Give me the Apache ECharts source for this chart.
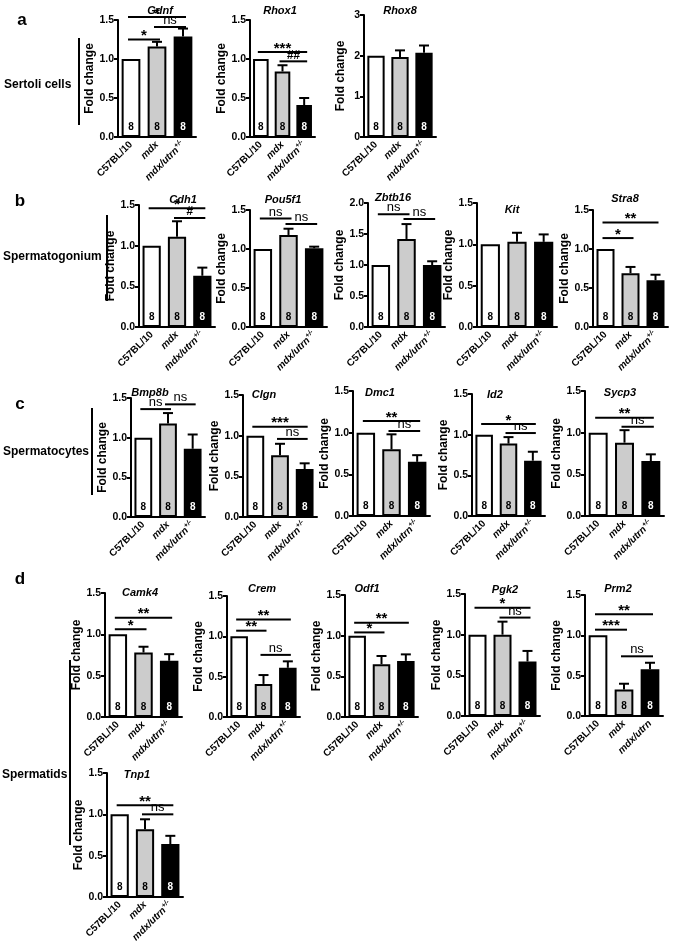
<!DOCTYPE html>
<html><head><meta charset="utf-8">
<script src="https://cdn.jsdelivr.net/npm/echarts@6/dist/echarts.min.js"></script>
<style>html,body{margin:0;padding:0;background:#fff}#c{width:675px;height:947px}</style>
</head><body><div id="c"></div>
<script>
// ---------- data ----------
const genes = ['Gdnf','Rhox1','Rhox8','Cdh1','Pou5f1','Zbtb16','Kit','Stra8','Bmp8b','Clgn','Dmc1','Id2','Sycp3','Camk4','Crem','Odf1','Pgk2','Prm2','Tnp1'];
const groups = ['C57BL/10','mdx','mdx/utrn+/-'];
const groupsPrm2 = ['C57BL/10','mdx','mdx/utrn'];
const meanC57 = [1,1,2,1,1,1,1,1,1,1,1,1,1,1,1,1,1,1,1];
const meanMdx = [1.16,0.84,1.97,1.11,1.18,1.42,1.03,0.69,1.18,0.76,0.80,0.89,0.88,0.78,0.41,0.65,1.00,0.33,0.82];
const semMdx  = [0.06,0.08,0.16,0.19,0.08,0.24,0.11,0.08,0.13,0.14,0.18,0.08,0.15,0.07,0.11,0.10,0.16,0.07,0.12];
const meanDko = [1.29,0.41,2.07,0.63,1.01,1.00,1.03,0.60,0.86,0.59,0.65,0.68,0.66,0.68,0.61,0.69,0.67,0.58,0.64];
const semDko  = [0.10,0.09,0.18,0.10,0.02,0.06,0.09,0.07,0.18,0.07,0.08,0.11,0.08,0.08,0.08,0.08,0.13,0.08,0.10];
const nPerGroup = [8,8,8];
const yMax  = [1.5,1.5,3,1.5,1.5,2,1.5,1.5,1.5,1.5,1.5,1.5,1.5,1.5,1.5,1.5,1.5,1.5,1.5];
const yStep = [0.5,0.5,1,0.5,0.5,0.5,0.5,0.5,0.5,0.5,0.5,0.5,0.5,0.5,0.5,0.5,0.5,0.5,0.5];
// [geneIndex, fromGroup, toGroup, yLevel, text]
const sigMarks = [
  [0,0,1,1.25,'*'],[0,0,2,1.54,'*'],[0,1,2,1.41,'ns'],
  [1,0,2,1.09,'***'],[1,1,2,0.97,'##'],
  [3,0,2,1.46,'*'],[3,1,2,1.34,'#'],
  [4,0,1,1.39,'ns'],[4,1,2,1.32,'ns'],
  [5,0,1,1.82,'ns'],[5,1,2,1.74,'ns'],
  [7,0,2,1.34,'**'],[7,0,1,1.14,'*'],
  [8,0,1,1.36,'ns'],[8,1,2,1.42,'ns'],
  [9,0,2,1.11,'***'],[9,1,2,0.96,'ns'],
  [10,0,2,1.14,'**'],[10,1,2,1.02,'ns'],
  [11,0,2,1.13,'*'],[11,1,2,1.02,'ns'],
  [12,0,2,1.18,'**'],[12,1,2,1.07,'ns'],
  [13,0,2,1.20,'**'],[13,0,1,1.06,'*'],
  [14,0,2,1.21,'**'],[14,0,1,1.07,'**'],[14,1,2,0.77,'ns'],
  [15,0,2,1.16,'**'],[15,0,1,1.04,'*'],
  [16,0,2,1.33,'*'],[16,1,2,1.21,'ns'],
  [17,0,2,1.26,'**'],[17,0,1,1.07,'***'],[17,1,2,0.74,'ns'],
  [18,0,2,1.11,'**'],[18,1,2,1.00,'ns']
];
const sections = [
  {letter:'a', name:'Sertoli cells'},
  {letter:'b', name:'Spermatogonium'},
  {letter:'c', name:'Spermatocytes'},
  {letter:'d', name:'Spermatids'}
];

// ---------- layout ----------
const gridBoxes = [
  [118,20,78,117],[250,20,65,117],[364,15,72,122],
  [139,205,76,122],[250,210,77,117],[368,203,77,124],[477,203,80,124],[593,210,75,117],
  [131,398,74,119],[243,395,74,122],[353,391,77,125],[472,394,73,122],[585,391,79,125],
  [105,593,77,124],[227,596,73,121],[345,595,73,122],[465,594,75,122],[585,595,78,121],
  [107,773,76,124]
];
const titlePos = [
  [160,11],[280,11],[400,11],
  [183,200],[283,200],[393,198],[512,210],[625,199],
  [150,393],[264,395],[380,393],[495,395],[620,393],
  [140,593],[262,589],[367,589],[505,590],[618,589],
  [137,775]
];
const sectionLayout = [
  {lx:22,ly:20,tx:4,ty:85,bx:79,by1:38,by2:125},
  {lx:20,ly:201,tx:3,ty:257,bx:107,by1:215,by2:301},
  {lx:20,ly:404,tx:3,ty:452,bx:92,by1:408,by2:495},
  {lx:20,ly:579,tx:2,ty:775,bx:70,by1:660,by2:845}
];

const FONT = '"Liberation Sans", Arial, sans-serif';
const barFill = ['#ffffff','#cccccc','#000000'];
const labelFill = ['#000000','#000000','#ffffff'];

const option = {animation:false, backgroundColor:'#fff', grid:[], xAxis:[], yAxis:[], series:[], graphic:[]};

genes.forEach((g,k)=>{
  const [l,t,w,h] = gridBoxes[k];
  option.grid.push({left:l, top:t, width:w, height:h});
  const cats = g === 'Prm2' ? groupsPrm2 : groups;
  option.xAxis.push({
    type:'category', gridIndex:k, data:cats,
    axisLine:{lineStyle:{color:'#000', width:2}},
    axisTick:{alignWithLabel:true, length:4, lineStyle:{color:'#000', width:2}},
    axisLabel:{interval:0, rotate:45, margin:6, color:'#000',
      formatter:v => v==='C57BL/10' ? '{n|C57BL/10}' : (v==='mdx/utrn+/-' ? '{i|mdx/utrn}{s|+/-}' : '{i|'+v+'}'),
      rich:{
        n:{fontFamily:FONT, fontWeight:'bold', fontSize:10, color:'#000'},
        i:{fontFamily:FONT, fontWeight:'bold', fontStyle:'italic', fontSize:10, color:'#000'},
        s:{fontFamily:FONT, fontWeight:'bold', fontStyle:'italic', fontSize:7, color:'#000', verticalAlign:'top', padding:[0,0,6,0]}
      }}
  });
  option.yAxis.push({
    type:'value', gridIndex:k, min:0, max:yMax[k], interval:yStep[k],
    name:'Fold change', nameLocation:'middle', nameGap:17,
    nameTextStyle:{fontFamily:FONT, fontWeight:'bold', fontSize:12, color:'#000'},
    axisLine:{show:true, lineStyle:{color:'#000', width:2}},
    axisTick:{show:true, length:4, lineStyle:{color:'#000', width:2}},
    splitLine:{show:false},
    axisLabel:{margin:4, color:'#000', fontFamily:FONT, fontWeight:'bold', fontSize:10.5,
      formatter:v => yStep[k] >= 1 ? String(Math.round(v)) : v.toFixed(1)}
  });
  const means = [meanC57[k], meanMdx[k], meanDko[k]];
  option.series.push({
    type:'bar', xAxisIndex:k, yAxisIndex:k, barWidth:'72%',
    data: means.map((m,i)=>({value:m, itemStyle:{color:barFill[i]}, label:{color:labelFill[i]}})),
    itemStyle:{borderColor:'#000', borderWidth:2},
    label:{show:true, position:'insideBottom', distance:5, fontFamily:FONT, fontSize:10, fontWeight:'bold',
      formatter:p => String(nPerGroup[p.dataIndex])},
    z:2
  });
  const errs = [[1, meanMdx[k], semMdx[k]], [2, meanDko[k], semDko[k]]];
  option.series.push({
    type:'custom', xAxisIndex:k, yAxisIndex:k, data:errs, encode:{x:0, y:1}, z:1,
    renderItem:(params, api)=>{
      const x = api.value(0), m = api.value(1), e = api.value(2);
      const p0 = api.coord([x, m]), p1 = api.coord([x, m+e]);
      const st = {stroke:'#000', lineWidth:2};
      return {type:'group', children:[
        {type:'line', shape:{x1:p0[0], y1:p0[1], x2:p1[0], y2:p1[1]}, style:st},
        {type:'line', shape:{x1:p1[0]-5, y1:p1[1], x2:p1[0]+5, y2:p1[1]}, style:st}
      ]};
    }
  });
  const sigs = sigMarks.filter(s => s[0]===k);
  if (sigs.length){
    option.series.push({
      type:'custom', xAxisIndex:k, yAxisIndex:k, z:5,
      data: sigs.map(s => [s[1], s[2], s[3]]), encode:{x:[0,1], y:2},
      renderItem:(params, api)=>{
        const s = sigs[params.dataIndex];
        const a = api.coord([api.value(0), api.value(2)]);
        const b = api.coord([api.value(1), api.value(2)]);
        const isStar = s[4].indexOf('*') >= 0;
        return {type:'group', children:[
          {type:'line', shape:{x1:a[0]-3, y1:a[1], x2:b[0]+3, y2:b[1]}, style:{stroke:'#000', lineWidth:2}},
          {type:'text', x:(a[0]+b[0])/2, y:a[1] + (isStar ? 4 : 0),
           style:{text:s[4], textAlign:'center', textVerticalAlign:'bottom', fill:'#000',
             font: isStar ? 'bold 15px '+FONT : (s[4].indexOf('#')>=0 ? 'italic bold 12px '+FONT : '13px '+FONT)}}
        ]};
      }
    });
  }
  option.graphic.push({type:'text', x:titlePos[k][0], y:titlePos[k][1],
    style:{text:g, font:'italic bold 11px '+FONT, textAlign:'center', textVerticalAlign:'middle', fill:'#000'}});
});

sections.forEach((s,i)=>{
  const L = sectionLayout[i];
  option.graphic.push({type:'text', x:L.lx, y:L.ly, style:{text:s.letter, font:'bold 17px '+FONT, textAlign:'center', textVerticalAlign:'middle', fill:'#000'}});
  option.graphic.push({type:'text', x:L.tx, y:L.ty, style:{text:s.name, font:'bold 12px '+FONT, textAlign:'left', textVerticalAlign:'middle', fill:'#000'}});
  option.graphic.push({type:'line', shape:{x1:L.bx, y1:L.by1, x2:L.bx, y2:L.by2}, style:{stroke:'#000', lineWidth:2}});
});

const chart = echarts.init(document.getElementById('c'), null, {renderer:'canvas'});
chart.setOption(option);
</script></body></html>
